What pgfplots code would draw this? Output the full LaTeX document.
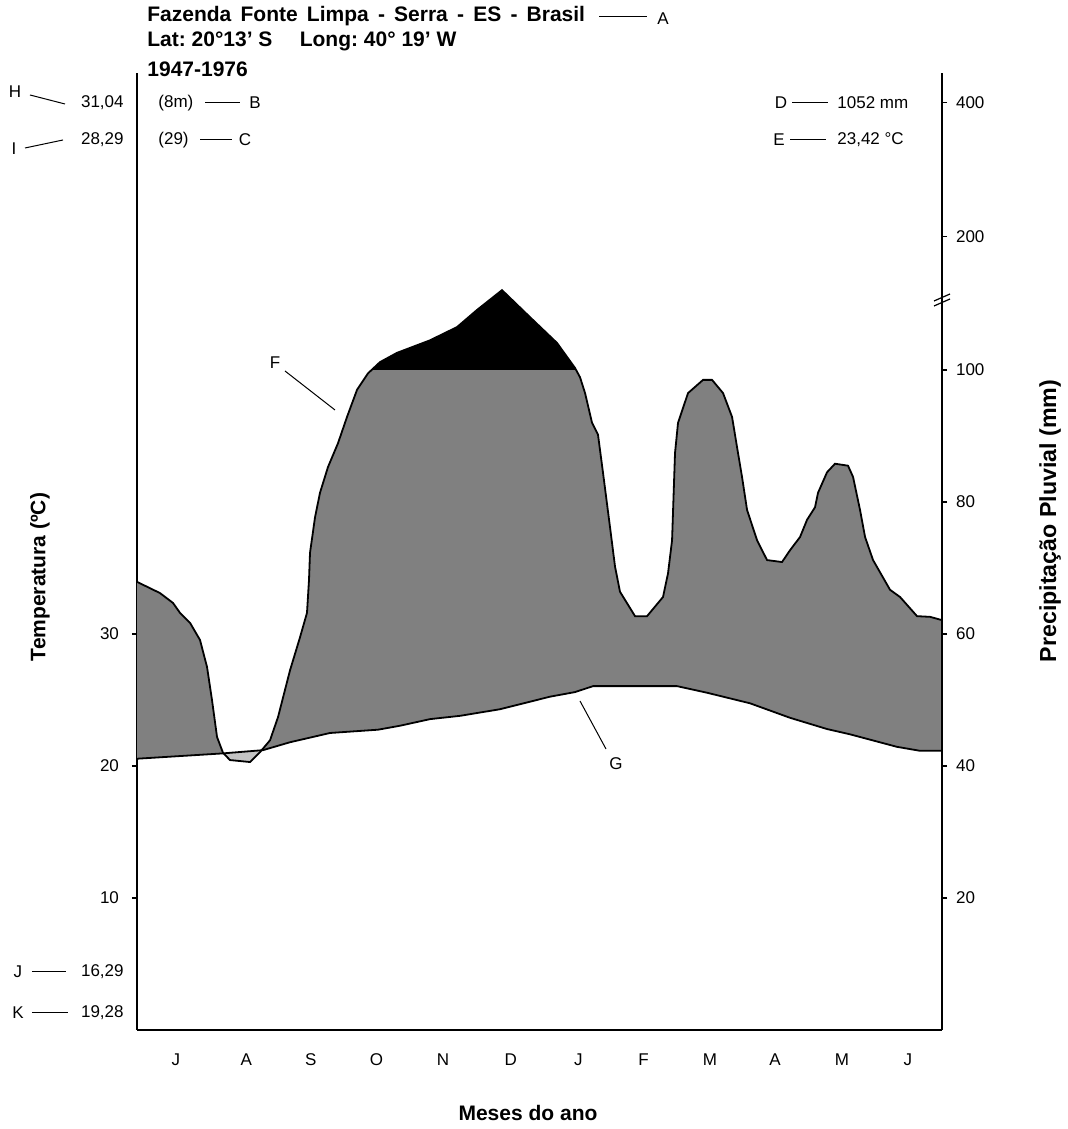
\documentclass[border=0pt]{standalone}
\usepackage{pgfplots}
\pgfplotsset{compat=1.18}
\usepackage{pgfplotstable}
\usepgfplotslibrary{fillbetween}
\usepackage{fontspec}
\setmainfont{Liberation Sans}
\definecolor{midgray}{HTML}{808080}
\definecolor{drygray}{HTML}{C4C4C4}
\frenchspacing

\pgfplotstableread{
x y
0 67.9
0.343 66.2
0.537 64.7
0.641 63.2
0.790 61.7
0.939 59.1
1.044 55.0
1.118 50.0
1.193 44.4
1.282 42.0
1.386 40.9
1.685 40.6
1.834 42.1
1.983 43.9
2.102 47.4
2.281 54.5
2.430 59.5
2.534 63.2
2.564 68.2
2.579 72.3
2.654 77.7
2.728 81.4
2.847 85.3
2.996 88.9
3.131 92.9
3.280 97.0
3.444 99.5
3.623 101.2
3.876 102.6
4.368 104.5
4.770 106.5
5.069 109.1
5.441 112.1
5.859 108.0
6.261 104.1
6.530 100.3
6.604 98.9
6.679 96.5
6.783 92.0
6.872 90.2
6.947 84.4
7.051 76.2
7.126 70.2
7.200 66.4
7.424 62.7
7.603 62.7
7.841 65.6
7.916 69.2
7.976 74.2
8.020 87.4
8.065 92.0
8.214 96.5
8.438 98.5
8.572 98.5
8.736 96.5
8.870 92.9
8.945 88.3
9.019 83.8
9.094 78.8
9.243 74.2
9.392 71.2
9.615 70.9
9.735 72.7
9.884 74.7
9.988 77.3
10.107 79.2
10.152 81.4
10.286 84.5
10.405 85.8
10.599 85.5
10.674 83.8
10.778 78.8
10.853 74.7
10.972 71.2
11.225 66.7
11.375 65.6
11.628 62.7
11.822 62.6
12 62.1
}\precip

\pgfplotstableread{
x y
0 41.1
1.267 41.9
1.878 42.4
2.281 43.6
2.877 45.0
3.593 45.5
3.921 46.1
4.368 47.1
4.815 47.6
5.411 48.6
6.156 50.5
6.530 51.2
6.798 52.1
8.050 52.1
8.497 51.1
9.138 49.5
9.735 47.3
10.286 45.6
10.629 44.8
11.330 42.9
11.673 42.3
12 42.3
}\temp

\begin{document}
\begin{tikzpicture}
\pgfplotsset{
  common/.style={
    at={(0,0)}, anchor=south west, scale only axis,
    width=402.5pt, height=478.5pt,
    xmin=0, xmax=12, ymin=0, ymax=145,
    axis line style={line width=0.9pt},
    tick align=outside, major tick length=2.5pt,
    every tick/.style={black, line width=0.6pt},
    tick label style={font=\fontsize{8.5}{10}\selectfont},
    /pgf/number format/assume math mode=true,
  }
}
\begin{axis}[common,
  axis x line*=bottom, axis y line*=left,
  xtick={0.58,1.63,2.59,3.57,4.56,5.57,6.58,7.55,8.54,9.51,10.51,11.49},
  xticklabels={J,A,S,O,N,D,J,F,M,A,M,J},
  x tick style={draw=none},
  xticklabel style={yshift=-6pt},
  ytick={20,40,60}, yticklabels={10,20,30},
  yticklabel style={xshift=-3pt},
]
\addplot[draw=none, name path=P] table[x=x,y=y] {\precip};
\addplot[draw=none, name path=T] table[x=x,y=y] {\temp};
\addplot[draw=none, name path=H] coordinates {(0,100) (12,100)};
\addplot[fill=midgray] fill between[of=P and T, split,
   every segment no 1/.style={fill=drygray}];
\addplot[fill=black] fill between[of=P and H,
   soft clip={(axis cs:3.497,100) rectangle (axis cs:6.546,145)}];
\addplot[black, line width=0.9pt] table[x=x,y=y] {\precip};
\addplot[black, line width=0.9pt] table[x=x,y=y] {\temp};
\end{axis}
\begin{axis}[common,
  axis y line*=right, axis x line=none,
  ytick={20,40,60,80,100,120.2,140.5},
  yticklabels={20,40,60,80,100,200,400},
  yticklabel style={xshift=1pt},
]
\addplot[draw=none] coordinates {(0,0) (12,145)};
\end{axis}

\begin{scope}[x=0.5pt, y=-0.5pt, shift={(-68.5pt,515pt)}]
\tikzset{sm/.style={font=\fontsize{8.5}{10}\selectfont, inner sep=0pt},
         bf/.style={font=\fontsize{10.5}{12}\selectfont\bfseries, inner sep=0pt}}
% title
\node[bf, anchor=base west] at (147,22) {\spaceskip=4.6pt Fazenda Fonte Limpa - Serra - ES - Brasil};
\draw[line width=0.5pt] (599,17) -- (647,17);
\node[sm] at (663,19) {A};
\node[bf, anchor=base west] at (147,47) {Lat: 20°13' S\hspace{1.3em}Long: 40° 19' W};
\node[bf, anchor=base west] at (147,77) {1947-1976};
% left top
\node[sm] at (15,92) {H};
\draw[line width=0.5pt] (30,95) -- (65,104);
\node[sm, anchor=east] at (124,103) {31,04};
\node[sm] at (14,149) {I};
\draw[line width=0.5pt] (25,148) -- (63,140);
\node[sm, anchor=east] at (124,140) {28,29};
\node[sm, anchor=west] at (158,103) {(8m)};
\draw[line width=0.5pt] (205,103) -- (240,103);
\node[sm] at (255,103) {B};
\node[sm, anchor=west] at (158,140) {(29)};
\draw[line width=0.5pt] (200,140) -- (232,140);
\node[sm] at (245,140) {C};
% right top
\node[sm] at (781,103) {D};
\draw[line width=0.5pt] (792,103) -- (828,103);
\node[sm, anchor=west] at (837,103) {1052 mm};
\node[sm] at (779,140) {E};
\draw[line width=0.5pt] (790,140) -- (826,140);
\node[sm, anchor=west] at (837,140) {23,42 °C};
% F, G
\node[sm] at (275,363) {F};
\draw[line width=0.5pt] (285,371) -- (335,410);
\node[sm] at (616,764) {G};
\draw[line width=0.5pt] (580,701) -- (606,749);
% bottom left
\node[sm] at (18,972) {J};
\draw[line width=0.5pt] (32,972) -- (66,972);
\node[sm, anchor=east] at (124,972) {16,29};
\node[sm] at (18,1013) {K};
\draw[line width=0.5pt] (32,1013) -- (68,1013);
\node[sm, anchor=east] at (124,1013) {19,28};
% break mark
\draw[line width=0.6pt] (934,306) -- (950,299);
\draw[line width=0.6pt] (934,301) -- (950,294);
% axis labels
\node[bf, rotate=90] at (40,577) {Temperatura (ºC)};
\node[font=\fontsize{11.6}{13}\selectfont\bfseries, inner sep=0pt, rotate=90] at (1050,521) {Precipitação Pluvial (mm)};
\node[bf] at (528,1113) {Meses do ano};
\end{scope}
\pgfresetboundingbox
\useasboundingbox (-68.5pt,-49.5pt) rectangle (465pt,515pt);
\end{tikzpicture}
\end{document}
